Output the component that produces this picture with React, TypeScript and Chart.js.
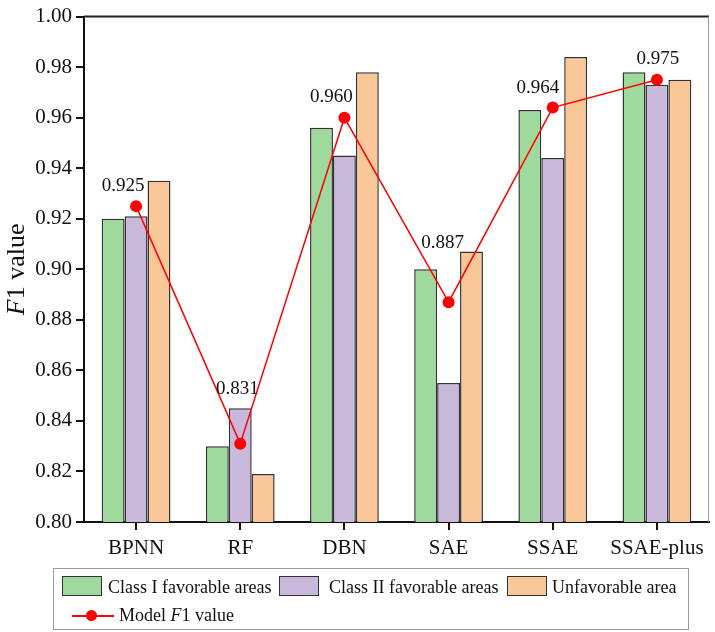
import React, { useEffect, useRef } from "react";
import { Chart, registerables } from "chart.js";

Chart.register(...registerables);

const categories = ["BPNN", "RF", "DBN", "SAE", "SSAE", "SSAE-plus"];
const classI = [0.92, 0.83, 0.956, 0.9, 0.963, 0.978];
const classII = [0.921, 0.845, 0.945, 0.855, 0.944, 0.973];
const unfavorable = [0.935, 0.819, 0.978, 0.907, 0.984, 0.975];
const modelF1 = [0.925, 0.831, 0.96, 0.887, 0.964, 0.975];
const yTicks = [0.8, 0.82, 0.84, 0.86, 0.88, 0.9, 0.92, 0.94, 0.96, 0.98, 1.0];

const FONT = "'Liberation Serif', 'Times New Roman', serif";
const GREEN = "#A0D99D";
const PURPLE = "#C8B9DA";
const ORANGE = "#FAC798";
const RED = "#FF0000";

// label offsets (dx, dy) relative to each line point
const labelOffsets: [number, number][] = [
  [-13, -20],
  [-3, -55],
  [-13, -21],
  [-6, -59],
  [-15, -20],
  [1, -21],
];

const overlayPlugin = {
  id: "overlay",
  afterDatasetsDraw(chart: any) {
    const ctx = chart.ctx;
    const meta = chart.getDatasetMeta(3);
    ctx.save();
    ctx.font = `19px ${FONT}`;
    ctx.fillStyle = "#111";
    ctx.textAlign = "center";
    ctx.textBaseline = "middle";
    meta.data.forEach((pt: any, i: number) => {
      const [dx, dy] = labelOffsets[i];
      ctx.fillText(modelF1[i].toFixed(3), pt.x + dx, pt.y + dy);
    });
    ctx.restore();
  },
  afterDraw(chart: any) {
    const ctx = chart.ctx;
    const a = chart.chartArea;
    ctx.save();
    ctx.strokeStyle = "#222";
    ctx.lineWidth = 2;
    ctx.beginPath();
    ctx.moveTo(a.left, a.top);
    ctx.lineTo(a.right, a.top);
    ctx.stroke();
    ctx.strokeStyle = "#999";
    ctx.lineWidth = 1;
    ctx.beginPath();
    ctx.moveTo(a.right - 0.5, a.top);
    ctx.lineTo(a.right - 0.5, a.bottom);
    ctx.stroke();
    // axis title
    const cy = (a.top + a.bottom) / 2;
    ctx.translate(17, cy);
    ctx.rotate(-Math.PI / 2);
    ctx.fillStyle = "#111";
    ctx.textBaseline = "middle";
    ctx.textAlign = "left";
    ctx.font = `italic 26px ${FONT}`;
    const fW = ctx.measureText("F").width;
    ctx.font = `26px ${FONT}`;
    const restW = ctx.measureText("1 value").width;
    const start = -(fW + restW) / 2;
    ctx.font = `italic 26px ${FONT}`;
    ctx.fillText("F", start, 0);
    ctx.font = `26px ${FONT}`;
    ctx.fillText("1 value", start + fW, 0);
    ctx.restore();
  },
};

export default function App() {
  const ref = useRef<HTMLCanvasElement | null>(null);

  useEffect(() => {
    if (!ref.current) return;
    const barCommon = {
      borderColor: "#333",
      borderWidth: 1.5,
      borderSkipped: false,
      categoryPercentage: 0.66,
      barPercentage: 1.0,
      order: 2,
    };
    const chart = new Chart(ref.current, {
      type: "bar",
      data: {
        labels: categories,
        datasets: [
          { label: "Class I favorable areas", data: classI, backgroundColor: GREEN, ...barCommon } as any,
          { label: "Class II favorable areas", data: classII, backgroundColor: PURPLE, ...barCommon } as any,
          { label: "Unfavorable area", data: unfavorable, backgroundColor: ORANGE, ...barCommon } as any,
          {
            type: "line",
            label: "Model F1 value",
            data: modelF1,
            borderColor: RED,
            backgroundColor: RED,
            borderWidth: 1.5,
            pointRadius: 6,
            pointBackgroundColor: RED,
            pointBorderColor: RED,
            pointBorderWidth: 0,
            tension: 0,
            order: 0,
          } as any,
        ],
      },
      options: {
        animation: false,
        responsive: false,
        layout: { padding: { left: 0, top: 15, right: 2, bottom: 60 } },
        plugins: {
          legend: { display: false },
          tooltip: { enabled: false },
          title: { display: false },
        },
        scales: {
          x: {
            offset: true,
            grid: {
              offset: false,
              drawOnChartArea: false,
              drawTicks: true,
              tickLength: 8,
              color: "#111",
              lineWidth: 2,
            },
            border: { display: true, color: "#111", width: 2 },
            ticks: {
              color: "#111",
              font: { family: FONT, size: 21 },
              padding: 6,
              maxRotation: 0,
              autoSkip: false,
            },
            afterFit: (s: any) => {
              s.height = 50;
            },
          },
          y: {
            min: 0.8,
            max: 1.0,
            afterBuildTicks: (s: any) => {
              s.ticks = yTicks.map((v) => ({ value: v }));
            },
            grid: {
              drawOnChartArea: false,
              drawTicks: true,
              tickLength: 8,
              color: "#111",
              lineWidth: 2,
            },
            border: { display: true, color: "#111", width: 2 },
            ticks: {
              color: "#111",
              font: { family: FONT, size: 21 },
              padding: 4,
              callback: (v: any) => Number(v).toFixed(2),
            },
            afterFit: (s: any) => {
              s.width = 84;
            },
          },
        },
      },
      plugins: [overlayPlugin],
    });
    return () => chart.destroy();
  }, []);

  const textStyle: React.CSSProperties = {
    position: "absolute",
    fontFamily: FONT,
    fontSize: 18,
    color: "#111",
    lineHeight: "20px",
    whiteSpace: "nowrap",
  };
  const swatch = (left: number, color: string): React.CSSProperties => ({
    position: "absolute",
    left,
    top: 7,
    width: 38,
    height: 18,
    background: color,
    border: "1.5px solid #333",
  });

  return (
    <div style={{ position: "absolute", left: 0, top: 0, width: 715, height: 632, background: "#fff" }}>
      <canvas ref={ref} width={715} height={632} style={{ display: "block" }} />
      <div
        style={{
          position: "absolute",
          left: 53,
          top: 568,
          width: 636,
          height: 62,
          border: "1px solid #999",
          boxSizing: "border-box",
        }}
      >
        <div style={swatch(8, GREEN)} />
        <div style={{ ...textStyle, left: 54, top: 8 }}>Class I favorable areas</div>
        <div style={swatch(225, PURPLE)} />
        <div style={{ ...textStyle, left: 275, top: 8 }}>Class II favorable areas</div>
        <div style={swatch(453, ORANGE)} />
        <div style={{ ...textStyle, left: 498, top: 8 }}>Unfavorable area</div>
        <div style={{ position: "absolute", left: 18, top: 46, width: 42, height: 1.5, background: RED }} />
        <div
          style={{
            position: "absolute",
            left: 32,
            top: 41,
            width: 11,
            height: 11,
            borderRadius: "50%",
            background: RED,
          }}
        />
        <div style={{ ...textStyle, left: 65, top: 36 }}>
          Model <i>F</i>1 value
        </div>
      </div>
    </div>
  );
}
